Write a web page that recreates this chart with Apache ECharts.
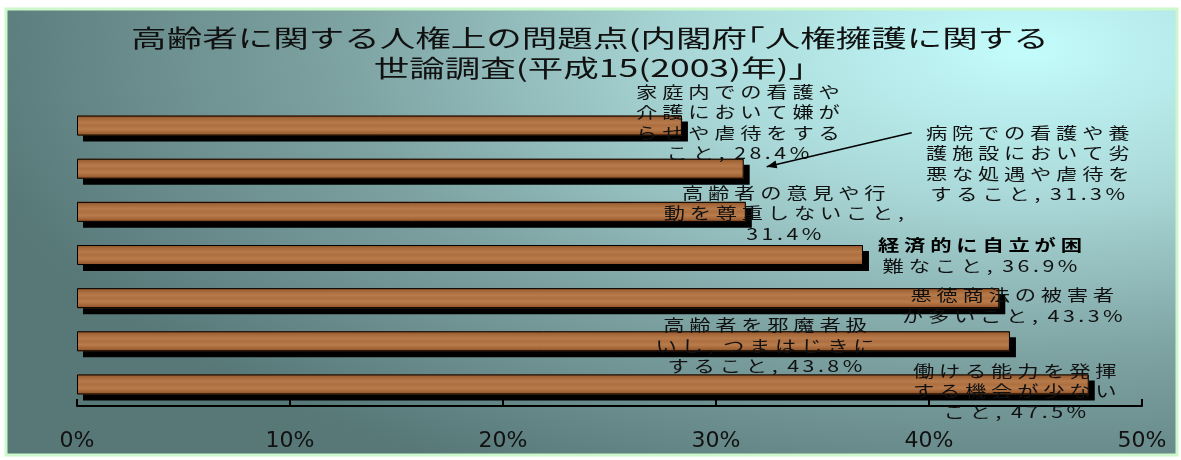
<!DOCTYPE html>
<html><head><meta charset="utf-8">
<script src="https://cdn.jsdelivr.net/npm/echarts@6/dist/echarts.min.js"></script>
<style>html,body{margin:0;padding:0;background:#fff}#c{width:1181px;height:460px}</style>
</head><body><div id="c"></div>
<script>
// ---- data ----
const titleLines = ['高齢者に関する人権上の問題点(内閣府｢人権擁護に関する', '世論調査(平成15(2003)年)｣'];
const categories = [
  '家庭内での看護や介護において嫌がらせや虐待をすること',
  '病院での看護や養護施設において劣悪な処遇や虐待をすること',
  '高齢者の意見や行動を尊重しないこと',
  '経済的に自立が困難なこと',
  '悪徳商法の被害者が多いこと',
  '高齢者を邪魔者扱いし, つまはじきにすること',
  '働ける能力を発揮する機会が少ないこと'
];
const values = [28.4, 31.3, 31.4, 36.9, 43.3, 43.8, 47.5];
const tickValues = [0, 10, 20, 30, 40, 50];

// ---- layout (not data) ----
const labelBreaks = [[8,16,24],[8,16,24],[8,18],[8],[8],[8,18],[8,16]];
const labelOffsets = [[56,-34],[284,-36],[38,-19],[117,-10],[13,-3],[-245,-16],[-74,-14]];
const boldFirstLine = [false,false,false,true,false,false,false];
const arrowFromTo = [1, [168,-36], [23,-2]];

const chart = echarts.init(document.getElementById('c'), null, {renderer:'canvas'});
const wood = {type:'linear', x:0, y:0, x2:0, y2:1, colorStops:[
  {offset:0, color:'#8f5226'},{offset:0.15, color:'#a5683a'},{offset:0.35, color:'#b77a4a'},
  {offset:0.5, color:'#ad6f40'},{offset:0.68, color:'#b97c4b'},{offset:0.85, color:'#a46638'},{offset:1, color:'#8c4f24'}]};

chart.setOption({
  animation:false,
  grid:{left:77, right:39, top:104, bottom:54},
  xAxis:{type:'value', min:tickValues[0], max:tickValues[tickValues.length-1], interval:10,
    axisLine:{show:true, lineStyle:{color:'#000', width:2}},
    axisTick:{show:true, inside:true, length:7, lineStyle:{color:'#000', width:2}},
    splitLine:{show:false},
    axisLabel:{formatter:'{value}%', fontSize:22, fontFamily:'DejaVu Sans', color:'#111', margin:24}},
  yAxis:{type:'category', inverse:true, data:categories, axisLine:{show:false}, axisTick:{show:false}, axisLabel:{show:false}},
  series:[
    {type:'bar', data:values, barWidth:20, z:2,
      itemStyle:{color:wood, borderWidth:0, shadowColor:'#000', shadowOffsetX:6, shadowOffsetY:6, shadowBlur:0}},
    {type:'bar', data:values, barWidth:20, barGap:'-100%', z:3,
      itemStyle:{color:'rgba(0,0,0,0)', borderColor:'#000', borderWidth:1}}
  ]
});

function isAscii(c){ return c.charCodeAt(0) < 128; }
function sp(s){
  const a = Array.from(s); let out = a[0] || '';
  for (let k = 1; k < a.length; k++) {
    const p = a[k-1], c = a[k];
    if (c === ' ') { out += '  '; continue; }
    if (p === ' ') { out += c; continue; }
    out += (isAscii(p) && isAscii(c) ? '\u2006' : ' ') + c;
  }
  return out;
}
function labelLines(i){
  const full = categories[i] + ', ' + values[i] + '%';
  const br = labelBreaks[i];
  const out = []; let p = 0;
  br.forEach(b => { out.push(full.slice(p,b).trim()); p = b; });
  out.push(full.slice(p).trim());
  return out;
}

const LH = 20.5, FS = 16, SX = 1.33;
const els = [];
// background
const sy = 0.45;
els.push({type:'rect', z:-100, x:6, y:9, scaleY:sy, shape:{x:0,y:0,width:1171,height:446/sy}, silent:true,
  style:{fill:{type:'radial', x:1020, y:40/sy, r:1080, global:true, colorStops:[
    {offset:0,color:'#c4fcfc'},{offset:0.3,color:'#abd9d9'},{offset:0.62,color:'#7fa4a4'},{offset:1,color:'#587878'}]}}});
els.push({type:'rect', z:-99, shape:{x:6,y:9,width:1171,height:446}, silent:true, style:{fill:null, stroke:'#ccf8cc', lineWidth:3}});
// title
titleLines.forEach((t, k) => {
  els.push({type:'text', z:100, x:590, y:38 + k*30, scaleX:1.48, silent:true,
    style:{text:t, x:0, y:0, align:'center', verticalAlign:'middle', fontSize:24, fontFamily:'Noto Sans CJK JP', fill:'#111'}});
});
// labels
values.forEach((v, i) => {
  const p = chart.convertToPixel({seriesIndex:0}, [v, i]);
  const lines = labelLines(i).map(sp);
  let text, rich;
  if (boldFirstLine[i]) {
    text = '{b|' + lines[0] + '}\n{n|' + lines.slice(1).join('}\n{n|') + '}';
    rich = {b:{fontWeight:'bold', fontSize:FS, fontFamily:'Noto Sans CJK JP', fill:'#000', lineHeight:LH},
            n:{fontSize:FS, fontFamily:'Noto Sans CJK JP', fill:'#111', lineHeight:LH}};
  } else { text = lines.join('\n'); }
  els.push({type:'text', z:100, x:p[0] + labelOffsets[i][0], y:p[1] + labelOffsets[i][1] - LH/2, scaleX:SX, silent:true,
    style:{text:text, rich:rich, x:0, y:0, align:'center', verticalAlign:'top', fontSize:FS, lineHeight:LH,
      fontFamily:'Noto Sans CJK JP', fill:'#111'}});
});
// arrow
{
  const i = arrowFromTo[0];
  const p = chart.convertToPixel({seriesIndex:0}, [values[i], i]);
  const x1 = p[0] + arrowFromTo[1][0], y1 = p[1] + arrowFromTo[1][1];
  const x2 = p[0] + arrowFromTo[2][0], y2 = p[1] + arrowFromTo[2][1];
  els.push({type:'line', z:100, silent:true, shape:{x1, y1, x2, y2}, style:{stroke:'#000', lineWidth:1.5}});
  const a = Math.atan2(y2-y1, x2-x1), L = 10, W = 4;
  const bx = x2 - L*Math.cos(a), by = y2 - L*Math.sin(a);
  els.push({type:'polygon', z:100, silent:true, shape:{points:[[x2,y2],[bx + W*Math.sin(a), by - W*Math.cos(a)],[bx - W*Math.sin(a), by + W*Math.cos(a)]]}, style:{fill:'#000'}});
}
chart.setOption({graphic:{elements:els}});
</script></body></html>
